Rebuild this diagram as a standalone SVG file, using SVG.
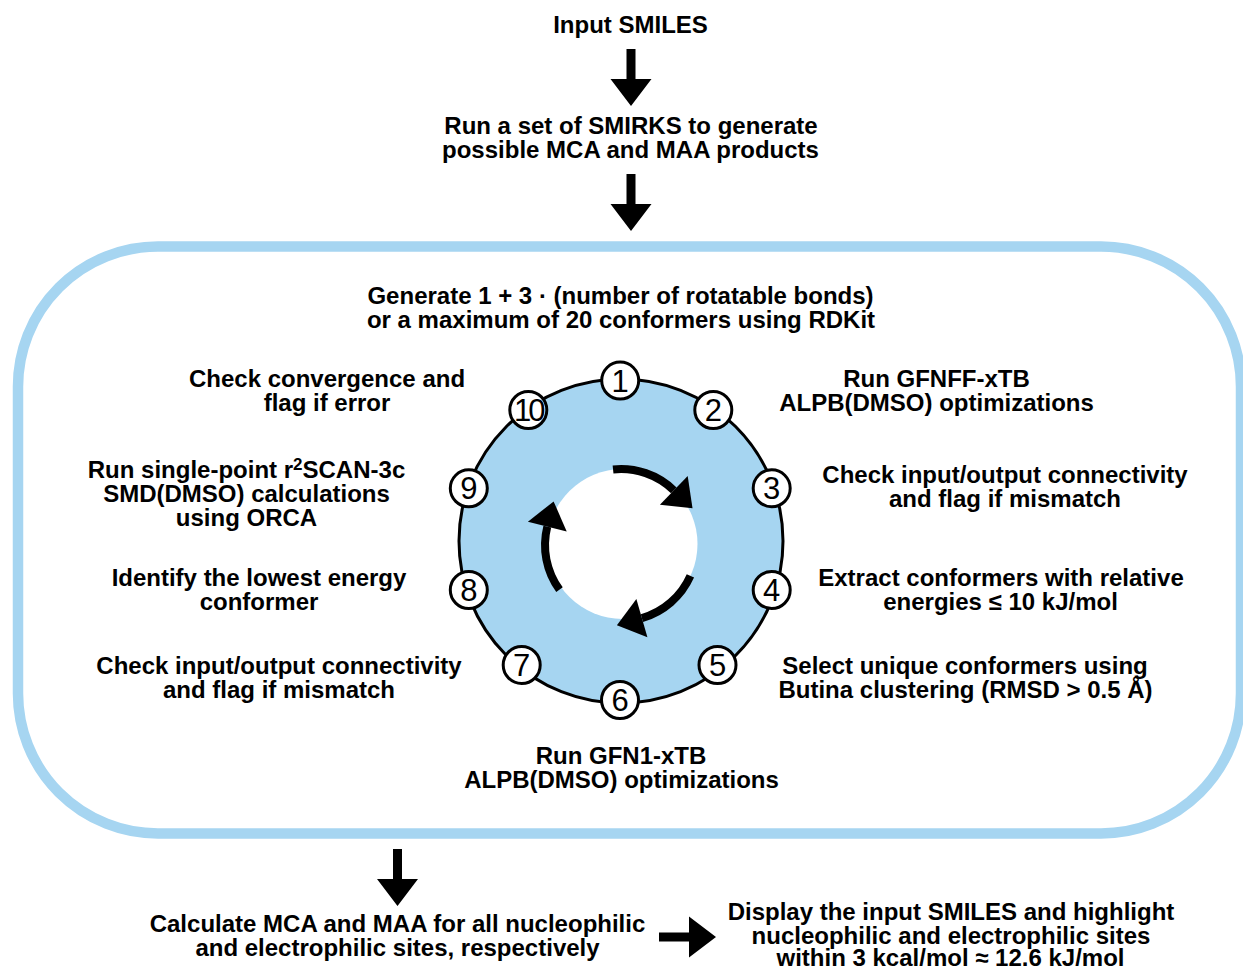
<svg xmlns="http://www.w3.org/2000/svg" width="1243" height="969" viewBox="0 0 1243 969">
<style>
.t{font-family:"Liberation Sans",Arial,Helvetica,sans-serif;font-weight:bold;font-size:24px;fill:#000;text-anchor:middle}
.n{font-family:"Liberation Sans",Arial,Helvetica,sans-serif;font-size:31px;fill:#000;text-anchor:middle}
.nc{fill:#fff;stroke:#000;stroke-width:3}
.arc{fill:none;stroke:#000;stroke-width:8;marker-end:url(#head)}
</style>
<defs>
<path id="darrow" d="M-4.5,0 H4.5 V30 H20.5 L0,57 L-20.5,30 H-4.5 Z" fill="#000"/>
<marker id="head" markerUnits="userSpaceOnUse" orient="auto" refX="0" refY="0" markerWidth="30" markerHeight="44" overflow="visible">
<path d="M0,-20 L26,0 L0,20 Z" fill="#000"/>
</marker>
</defs>
<rect width="1243" height="969" fill="#fff"/>
<g id="loop-frame">
<rect x="18" y="246.5" width="1223" height="587" rx="140" ry="140" fill="none" stroke="#a6d5f1" stroke-width="10.5"/>
</g>
<g id="cycle">
<circle cx="621" cy="541" r="162" fill="#a6d5f1" stroke="#000" stroke-width="3"/>
<circle cx="622.5" cy="544" r="75" fill="#fff"/>
</g>
<g id="connectors">
<use href="#darrow" transform="translate(631,49)"/>
<use href="#darrow" transform="translate(631,174)"/>
<use href="#darrow" transform="translate(397.5,849)"/>
<use href="#darrow" transform="translate(659,937) rotate(-90)"/>
<path class="arc" d="M613.06,469.42 A76,76 0 0 1 673.8,490.3"/>
<path class="arc" d="M690.4,575.9 A76,76 0 0 1 641.9,618.1"/>
<path class="arc" d="M559.5,589.7 A76,76 0 0 1 547.3,526.6"/>
</g>
<g id="step-markers">
<g id="m1"><circle class="nc" cx="620.2" cy="380.6" r="18.5"/><text class="n" x="620.2" y="391.7">1</text></g>
<g id="m2"><circle class="nc" cx="713.3" cy="410" r="18.5"/><text class="n" x="713.3" y="421.1">2</text></g>
<g id="m3"><circle class="nc" cx="771.7" cy="488.3" r="18.5"/><text class="n" x="771.7" y="499.4">3</text></g>
<g id="m4"><circle class="nc" cx="771.7" cy="590" r="18.5"/><text class="n" x="771.7" y="601.1">4</text></g>
<g id="m5"><circle class="nc" cx="717.5" cy="665" r="18.5"/><text class="n" x="717.5" y="676.1">5</text></g>
<g id="m6"><circle class="nc" cx="620" cy="700" r="18.5"/><text class="n" x="620" y="711.1">6</text></g>
<g id="m7"><circle class="nc" cx="521.7" cy="665" r="18.5"/><text class="n" x="521.7" y="676.1">7</text></g>
<g id="m8"><circle class="nc" cx="468.8" cy="590" r="18.5"/><text class="n" x="468.8" y="601.1">8</text></g>
<g id="m9"><circle class="nc" cx="468.8" cy="488.3" r="18.5"/><text class="n" x="468.8" y="499.4">9</text></g>
<g id="m10"><circle class="nc" cx="528.3" cy="410" r="18.5"/><text class="n" x="528.3" y="421.1" letter-spacing="-3">10</text></g>
</g>
<g id="input"><text class="t" x="630.5" y="33">Input SMILES</text></g>
<g id="smirks"><text class="t" x="631" y="134">Run a set of SMIRKS to generate</text><text class="t" x="630.5" y="158">possible MCA and MAA products</text></g>
<g id="generate"><text class="t" x="620.5" y="304">Generate 1 + 3 · (number of rotatable bonds)</text><text class="t" x="621" y="328">or a maximum of 20 conformers using RDKit</text></g>
<g id="step2"><text class="t" x="936.5" y="387">Run GFNFF-xTB</text><text class="t" x="936.5" y="411">ALPB(DMSO) optimizations</text></g>
<g id="step3"><text class="t" x="1005" y="483">Check input/output connectivity</text><text class="t" x="1005" y="507">and flag if mismatch</text></g>
<g id="step4"><text class="t" x="1001" y="586">Extract conformers with relative</text><text class="t" x="1000.5" y="610">energies ≤ 10 kJ/mol</text></g>
<g id="step5"><text class="t" x="965" y="674">Select unique conformers using</text><text class="t" x="965.5" y="698">Butina clustering (RMSD &gt; 0.5 Å)</text></g>
<g id="step6"><text class="t" x="621" y="764">Run GFN1-xTB</text><text class="t" x="621.5" y="788">ALPB(DMSO) optimizations</text></g>
<g id="step7"><text class="t" x="279" y="674">Check input/output connectivity</text><text class="t" x="279" y="698">and flag if mismatch</text></g>
<g id="step8"><text class="t" x="259" y="586">Identify the lowest energy</text><text class="t" x="259" y="610">conformer</text></g>
<g id="step9"><text class="t" x="246.5" y="478">Run single-point r<tspan font-size="17" dy="-8">2</tspan><tspan dy="8">SCAN-3c</tspan></text><text class="t" x="246.5" y="502">SMD(DMSO) calculations</text><text class="t" x="246.5" y="526">using ORCA</text></g>
<g id="step10"><text class="t" x="327" y="387">Check convergence and</text><text class="t" x="327" y="411">flag if error</text></g>
<g id="calculate"><text class="t" x="397.5" y="932">Calculate MCA and MAA for all nucleophilic</text><text class="t" x="397.5" y="956">and electrophilic sites, respectively</text></g>
<g id="display"><text class="t" x="951" y="920">Display the input SMILES and highlight</text><text class="t" x="951" y="944">nucleophilic and electrophilic sites</text><text class="t" x="950.5" y="966">within 3 kcal/mol ≈ 12.6 kJ/mol</text></g>
</svg>
